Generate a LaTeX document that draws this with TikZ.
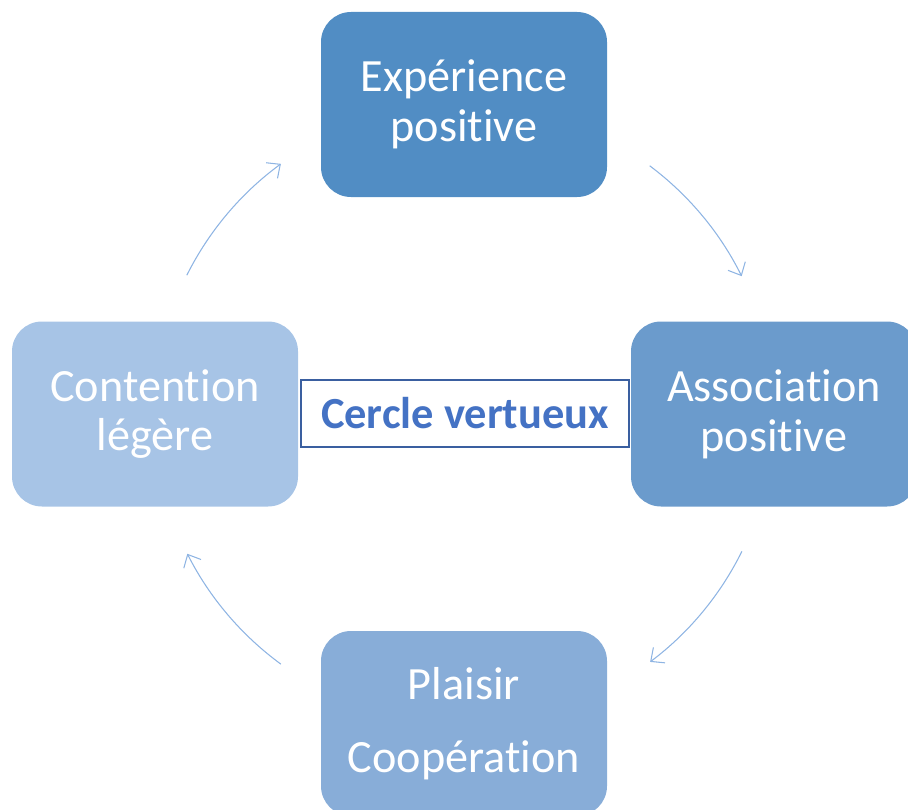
\documentclass[tikz,border=0pt]{standalone}
\usepackage{fontspec}
\setmainfont{Carlito}[Ligatures=NoCommon]
\usetikzlibrary{positioning, arrows.meta, calc}
\usepackage{xcolor}

\definecolor{stepA}{HTML}{518DC4}
\definecolor{stepB}{HTML}{6B9BCC}
\definecolor{stepC}{HTML}{88ADD8}
\definecolor{stepD}{HTML}{A7C4E6}
\definecolor{ringblue}{HTML}{8EB4E3}
\definecolor{titleblue}{HTML}{4472C4}
\definecolor{titleline}{HTML}{3A5FA0}

\tikzset{
    cyclebox/.style={rounded corners=0.6cm, minimum width=5.72cm, minimum height=3.7cm,
        text=white, align=center, font=\fontsize{26.3}{28.3}\selectfont},
    cyclearrow/.style={draw=ringblue, line width=0.6pt, -{Straight Barb[length=6pt, width=11pt]}}
}

\begin{document}
\begin{tikzpicture}
\path[use as bounding box, clip] (0,0) rectangle (18.16,16.18);

% the four steps of the cycle
\node[cyclebox, fill=stepA] (experience) at (9.28,14.09) {Expérience\\positive};
\node[cyclebox, fill=stepB] (association) at (15.48,7.90) {Association\\positive};
\node[cyclebox, fill=stepC] (plaisir) at (9.28,1.71) {Plaisir\\[13pt]Coopération};
\node[cyclebox, fill=stepD] (contention) at (3.10,7.90) {Contention\\légère};

% title in the middle
\node[draw=titleline, line width=1.1pt, fill=white, minimum width=6.56cm, minimum height=1.34cm,
    text=titleblue, font=\fontsize{25.3}{28}\selectfont\bfseries] (centre) at (9.30,7.91) {Cercle vertueux};

% arrows on a ring round the centre
\coordinate (ring) at (9.28,7.90);
\coordinate (startA) at ($(ring)+(53.2:6.2)$);
\coordinate (startB) at ($(ring)+(-26.3:6.2)$);
\coordinate (startC) at ($(ring)+(-126.2:6.2)$);
\coordinate (startD) at ($(ring)+(153.4:6.2)$);
\draw[cyclearrow] (startA) arc[start angle=53.2, end angle=26.4, radius=6.2];
\draw[cyclearrow] (startB) arc[start angle=-26.3, end angle=-53.1, radius=6.2];
\draw[cyclearrow] (startC) arc[start angle=-126.2, end angle=-153.2, radius=6.2];
\draw[cyclearrow] (startD) arc[start angle=153.4, end angle=126.2, radius=6.2];
\end{tikzpicture}
\end{document}
